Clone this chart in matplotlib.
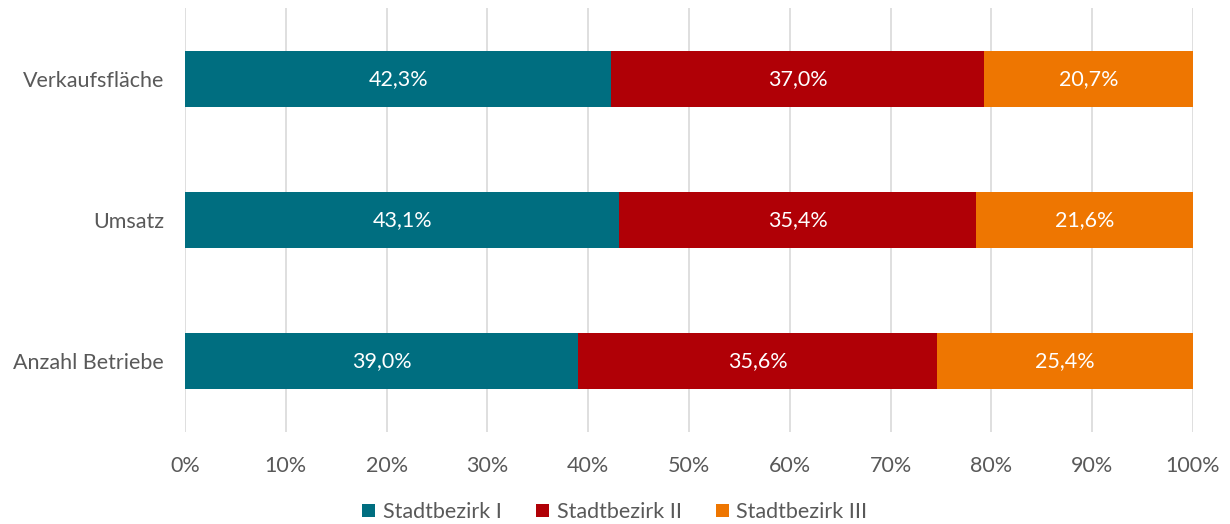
import matplotlib.pyplot as plt
import numpy as np

categories = ['Verkaufsfläche', 'Umsatz', 'Anzahl Betriebe']
series_names = ['Stadtbezirk I', 'Stadtbezirk II', 'Stadtbezirk III']
bezirk1 = [42.3, 43.1, 39.0]
bezirk2 = [37.0, 35.4, 35.6]
bezirk3 = [20.7, 21.6, 25.4]
colors = ['#006E80', '#B00006', '#EE7601']

plt.rcParams['font.family'] = ['Lato', 'DejaVu Sans']
fs = 15.5

fig = plt.figure(figsize=(12.3, 5.24), dpi=100)
ax = fig.add_axes([185 / 1230, 92 / 524, 1008 / 1230, 424 / 524])

y = np.arange(len(categories))
left = np.zeros(len(categories))
for name, vals, c in zip(series_names, [bezirk1, bezirk2, bezirk3], colors):
    vals = np.array(vals)
    ax.barh(y, vals, left=left, height=0.395, color=c, label=name, zorder=3)
    for yi, l, v in zip(y, left, vals):
        ax.text(l + v / 2, yi, f'{v:.1f}%'.replace('.', ','), ha='center', va='center',
                color='white', fontsize=fs, zorder=4)
    left += vals

ax.set_xlim(0, 100)
ax.set_ylim(2.5, -0.5)
ax.set_yticks(y)
ax.set_yticklabels(categories)
ax.set_xticks(np.arange(0, 101, 10))
ax.set_xticklabels([f'{v}%' for v in range(0, 101, 10)])
ax.tick_params(length=0, labelsize=fs, colors='#595959')
ax.tick_params(axis='x', pad=17)
ax.tick_params(axis='y', pad=15)
ax.grid(axis='x', color='#D9D9D9', linewidth=1.2, zorder=0)
for s in ax.spines.values():
    s.set_visible(False)

handles, labels = ax.get_legend_handles_labels()
fig.legend(handles, labels, loc='center', bbox_to_anchor=(0.5, 1 - 512 / 524), ncol=3,
           frameon=False, fontsize=fs, handlelength=0.6, handleheight=0.6,
           handletextpad=0.35, columnspacing=1.6, labelcolor='#595959',
           borderpad=0, borderaxespad=0)

fig.savefig('out.png', dpi=100)
